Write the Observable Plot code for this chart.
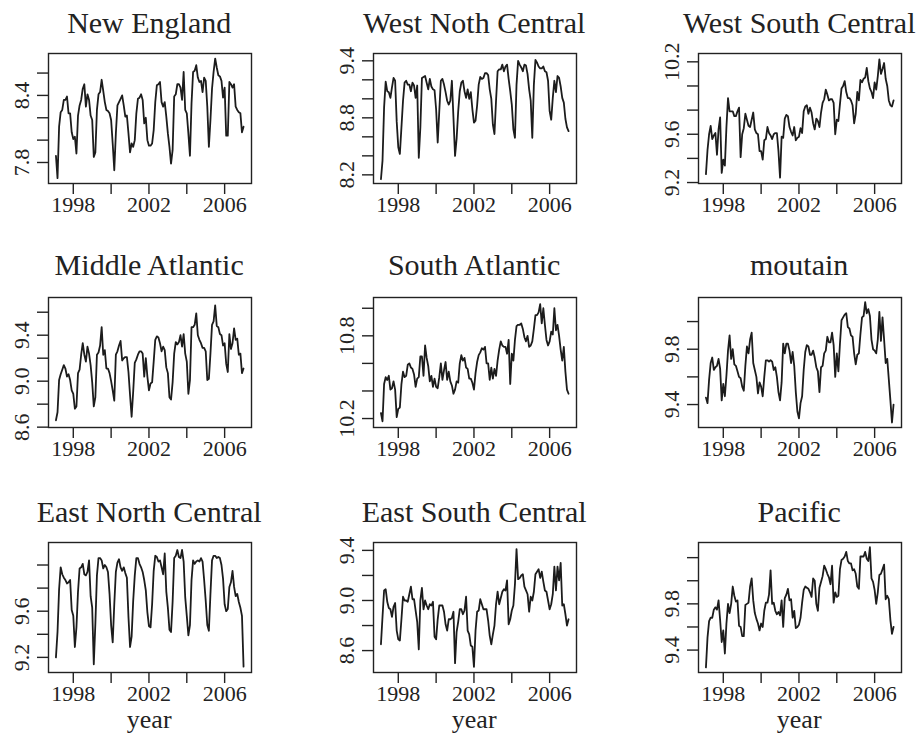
<!DOCTYPE html>
<html><head><meta charset="utf-8">
<script src="https://cdn.jsdelivr.net/npm/d3@7"></script>
<script src="https://cdn.jsdelivr.net/npm/@observablehq/plot@0.6"></script>
<style>
body{margin:0;background:#fff;}
#root{position:relative;width:919px;height:736px;overflow:hidden;font-family:"Liberation Serif",serif;color:#222;}
.title{position:absolute;font-size:30px;line-height:30px;white-space:nowrap;transform:translateX(-50%);}
.xlab{position:absolute;font-size:26px;line-height:26px;white-space:nowrap;transform:translateX(-50%);}
</style></head><body><div id="root"></div>
<script>
const regions = ["New England","West Noth Central","West South Central","Middle Atlantic","South Atlantic","moutain","East North Central","East South Central","Pacific"];
const firstMonth = 1997 + 1/12;

const newEngland = [7.86,7.66,8.12,8.25,8.27,8.36,8.36,8.39,8.24,8.24,8.07,8.01,
8.03,7.88,8.22,8.31,8.36,8.46,8.50,8.30,8.41,8.36,8.22,8.18,
7.85,7.89,8.27,8.41,8.43,8.54,8.44,8.34,8.27,8.26,8.24,8.18,
7.97,7.73,8.06,8.31,8.34,8.37,8.40,8.31,8.21,8.22,8.06,7.89,
7.97,7.94,8.00,8.24,8.37,8.38,8.41,8.36,8.15,8.20,8.00,7.95,
7.95,7.97,8.09,8.34,8.49,8.50,8.52,8.34,8.30,8.34,8.21,8.06,
7.94,7.79,7.91,8.39,8.41,8.50,8.50,8.47,8.36,8.61,8.27,8.24,
8.06,7.86,8.33,8.61,8.62,8.67,8.56,8.52,8.53,8.43,8.56,8.53,
8.30,7.94,8.18,8.46,8.61,8.73,8.65,8.58,8.57,8.53,8.38,8.47,
8.04,8.04,8.52,8.50,8.47,8.50,8.30,8.27,8.25,8.24,8.07,8.12];

const westNorthCentral = [8.154,8.35,8.91,9.18,9.08,9.07,9.01,9.12,9.22,9.19,8.76,8.49,
8.42,8.70,8.98,9.17,9.19,9.15,9.15,9.08,9.17,9.14,9.01,9.14,
8.38,8.70,9.22,9.23,9.24,9.17,9.10,9.21,9.13,9.10,9.09,8.89,
8.54,8.87,9.19,9.21,9.15,9.07,8.98,8.94,8.98,9.19,8.80,8.40,
8.58,8.87,9.08,9.17,9.19,9.08,9.01,9.10,9.00,9.07,8.89,8.75,
8.77,8.93,9.15,9.23,9.21,9.22,9.27,9.27,9.25,9.10,9.00,8.73,
8.63,8.98,9.29,9.31,9.31,9.36,9.29,9.34,9.36,9.21,9.08,8.94,
8.68,8.59,9.15,9.40,9.36,9.33,9.29,9.36,9.35,9.26,9.10,8.98,
8.59,9.15,9.41,9.38,9.34,9.32,9.32,9.34,9.29,9.28,9.19,8.87,
8.78,9.01,9.19,9.07,9.24,9.22,9.13,9.01,8.96,8.79,8.70,8.66];

const westSouthCentral = [9.27,9.47,9.60,9.67,9.56,9.59,9.61,9.43,9.64,9.74,9.28,9.39,
9.34,9.66,9.90,9.79,9.79,9.79,9.75,9.75,9.79,9.82,9.41,9.60,
9.65,9.77,9.72,9.67,9.66,9.72,9.78,9.64,9.61,9.60,9.46,9.46,
9.39,9.55,9.56,9.66,9.61,9.59,9.56,9.60,9.61,9.61,9.46,9.24,
9.58,9.57,9.73,9.76,9.75,9.66,9.62,9.59,9.66,9.55,9.57,9.58,
9.65,9.61,9.79,9.83,9.84,9.77,9.82,9.78,9.69,9.64,9.73,9.71,
9.66,9.78,9.86,9.89,9.97,9.93,9.88,9.89,9.89,9.86,9.60,9.72,
9.71,9.85,9.98,10.00,10.04,9.95,9.90,9.90,9.88,9.84,9.69,9.77,
9.95,9.88,10.05,10.03,10.06,10.07,10.15,10.04,9.98,9.95,9.90,10.03,
9.97,10.08,10.22,10.10,10.14,10.19,10.06,10.00,9.88,9.84,9.83,9.88];

const middleAtlantic = [8.66,8.73,9.01,9.06,9.10,9.14,9.11,9.04,9.06,9.01,8.92,8.89,
8.76,8.78,9.07,9.10,9.23,9.33,9.23,9.17,9.30,9.24,9.14,8.99,
8.78,8.86,9.23,9.25,9.31,9.47,9.23,9.27,9.11,9.11,9.07,9.00,
8.92,8.83,9.23,9.26,9.31,9.35,9.18,9.20,9.21,9.21,9.08,8.88,
8.69,8.91,9.16,9.19,9.23,9.26,9.26,9.24,9.04,9.20,9.04,8.92,
8.98,8.99,9.17,9.36,9.39,9.38,9.33,9.26,9.30,9.27,9.12,9.07,
8.86,8.84,8.99,9.24,9.34,9.32,9.34,9.40,9.30,9.41,9.24,9.17,
8.89,9.01,9.47,9.47,9.49,9.59,9.40,9.36,9.33,9.29,9.29,9.26,
9.01,9.02,9.24,9.49,9.52,9.66,9.48,9.47,9.41,9.40,9.31,9.33,
9.15,9.08,9.41,9.28,9.33,9.46,9.36,9.37,9.23,9.24,9.07,9.11];

const southAtlantic = [10.24,10.18,10.45,10.50,10.48,10.51,10.41,10.42,10.47,10.41,10.21,10.27,
10.28,10.45,10.54,10.50,10.51,10.59,10.60,10.57,10.56,10.52,10.43,10.49,
10.50,10.65,10.65,10.51,10.73,10.64,10.58,10.47,10.51,10.43,10.49,10.43,
10.42,10.50,10.60,10.48,10.55,10.61,10.48,10.54,10.47,10.44,10.38,10.41,
10.47,10.46,10.60,10.66,10.62,10.64,10.57,10.56,10.49,10.49,10.46,10.41,
10.53,10.61,10.66,10.68,10.71,10.70,10.72,10.60,10.60,10.48,10.57,10.49,
10.56,10.51,10.62,10.70,10.76,10.73,10.72,10.72,10.67,10.77,10.45,10.67,
10.62,10.77,10.87,10.88,10.88,10.89,10.85,10.79,10.76,10.80,10.72,10.73,
10.76,10.85,10.95,10.95,10.97,11.03,10.89,11.00,10.88,10.77,10.73,10.76,
10.83,10.81,11.00,10.84,10.88,10.80,10.70,10.62,10.72,10.54,10.41,10.38];

const mountain = [9.45,9.41,9.58,9.70,9.74,9.65,9.67,9.68,9.73,9.66,9.43,9.55,
9.46,9.61,9.79,9.90,9.73,9.80,9.69,9.68,9.64,9.60,9.59,9.53,
9.50,9.68,9.82,9.77,9.87,9.92,9.70,9.65,9.60,9.48,9.56,9.53,
9.46,9.60,9.72,9.72,9.71,9.72,9.71,9.65,9.67,9.60,9.49,9.43,
9.56,9.84,9.77,9.84,9.84,9.79,9.70,9.78,9.68,9.49,9.35,9.30,
9.41,9.46,9.65,9.78,9.83,9.82,9.76,9.76,9.79,9.74,9.67,9.64,
9.49,9.67,9.68,9.77,9.79,9.89,9.85,9.85,9.92,9.83,9.60,9.77,
9.64,9.84,10.01,10.03,10.05,10.06,9.96,9.95,9.90,9.89,9.77,9.69,
9.76,9.77,9.91,10.03,10.04,10.14,10.06,10.09,10.04,9.87,9.80,9.79,
9.77,9.87,10.07,9.86,10.03,9.87,9.70,9.73,9.58,9.43,9.27,9.40];

const eastNorthCentral = [9.20,9.42,9.79,9.98,9.92,9.89,9.87,9.84,9.85,9.87,9.61,9.56,
9.29,9.46,9.77,9.97,9.98,10.01,9.92,9.91,9.94,10.04,9.73,9.63,
9.14,9.49,9.91,10.06,10.06,10.04,9.97,10.00,9.98,9.94,9.75,9.48,
9.33,9.66,9.94,10.02,10.05,9.98,9.95,9.98,9.93,9.89,9.55,9.29,
9.38,9.69,9.91,10.06,10.06,10.01,9.98,9.94,9.87,9.78,9.59,9.47,
9.46,9.66,9.95,10.08,10.07,10.03,10.04,9.98,9.92,10.10,9.77,9.63,
9.44,9.42,9.68,10.06,10.08,10.13,10.07,10.06,10.13,10.03,9.72,9.56,
9.39,9.48,9.87,10.04,10.01,10.03,10.04,10.03,10.06,10.03,9.87,9.69,
9.48,9.43,9.75,10.04,10.08,10.08,10.06,10.07,10.06,10.00,9.88,9.66,
9.60,9.62,9.81,9.85,9.95,9.81,9.73,9.75,9.68,9.63,9.56,9.12];

const eastSouthCentral = [8.65,8.87,9.08,9.09,8.99,8.94,8.93,8.87,8.95,8.98,8.76,8.69,
8.68,8.85,9.03,9.00,9.00,8.99,9.05,9.11,9.01,9.01,8.92,8.83,
8.61,9.00,9.10,8.93,9.00,8.96,8.93,8.97,8.96,8.99,8.71,8.69,
8.85,8.96,8.96,8.96,8.91,8.81,8.76,8.85,8.85,8.86,8.91,8.50,
8.75,8.83,8.93,8.93,8.89,8.92,9.03,8.76,8.73,8.64,8.63,8.47,
8.76,8.91,8.92,9.01,8.97,8.93,8.93,8.93,8.84,8.72,8.65,8.73,
8.80,8.97,9.07,8.97,9.02,9.07,9.09,9.08,9.16,8.81,8.85,8.92,
8.96,9.13,9.41,9.17,9.18,9.20,9.21,9.11,9.08,9.05,8.91,9.03,
9.00,9.07,9.21,9.23,9.25,9.18,9.23,9.15,9.08,9.07,9.00,8.93,
8.97,9.05,9.27,9.08,9.27,9.16,9.30,8.96,8.97,8.89,8.80,8.85];

const pacific = [9.25,9.51,9.65,9.68,9.68,9.75,9.77,9.75,9.83,9.66,9.47,9.57,
9.37,9.63,9.80,9.72,9.80,9.95,9.87,9.82,9.83,9.61,9.60,9.52,
9.52,9.79,9.80,9.81,9.95,10.02,9.83,9.72,9.67,9.63,9.57,9.63,
9.60,9.74,9.81,9.81,9.88,10.09,9.80,9.81,9.74,9.71,9.73,9.70,
9.83,9.60,9.85,9.88,9.93,9.83,9.84,9.68,9.74,9.59,9.60,9.62,
9.68,9.81,9.92,9.95,9.94,9.93,9.90,9.86,10.02,10.00,9.80,9.74,
9.94,9.99,10.04,10.13,10.10,10.06,10.03,9.97,10.13,9.81,9.90,9.86,
9.87,10.10,10.18,10.19,10.21,10.25,10.17,10.15,10.15,10.09,10.10,10.06,
9.95,9.93,10.21,10.21,10.21,10.25,10.19,10.17,10.29,10.02,9.99,9.92,
9.80,9.90,10.05,10.06,10.10,10.14,9.84,9.87,9.84,9.66,9.54,9.60];

const series = [newEngland, westNorthCentral, westSouthCentral, middleAtlantic, southAtlantic, mountain, eastNorthCentral, eastSouthCentral, pacific];

const yDomains = [[7.612,8.775],[8.109,9.477],[9.192,10.269],[8.597,9.728],[10.135,11.078],[9.234,10.174],[9.069,10.195],[8.425,9.463],[9.206,10.331]];
const yTicks = [[7.8,8.0,8.2,8.4,8.6],[8.2,8.4,8.6,8.8,9.0,9.2,9.4],[9.2,9.4,9.6,9.8,10.0,10.2],[8.6,8.8,9.0,9.2,9.4,9.6],[10.2,10.4,10.6,10.8,11.0],[9.4,9.6,9.8,10.0],[9.2,9.4,9.6,9.8,10.0],[8.6,8.8,9.0,9.2,9.4],[9.4,9.6,9.8,10.0,10.2]];
const yLabels = [[7.8,8.4],[8.2,8.8,9.4],[9.2,9.6,10.2],[8.6,9.0,9.4],[10.2,10.8],[9.4,9.8],[9.2,9.6],[8.6,9.0,9.4],[9.4,9.8]];
const xTicks = [1998,2000,2002,2004,2006];
const xLabels = [1998,2002,2006];
const xDomain = [1996.69, 2007.42];
const xAxisTitle = "year";

const colLeft = [47.7, 372.7, 697.7];
const rowTop = [52.7, 297.3, 542.3];
const titleTop = [8.2, 249.9, 497.2];
const boxW = 203, boxH = 130;
const ML = 50, MR = 8, MT = 6, MB = 44;

const root = document.getElementById("root");

series.forEach((vals, k) => {
  const col = k % 3, row = Math.floor(k / 3);
  const data = vals.map((v, i) => ({t: firstMonth + i / 12, v}));
  const labs = yLabels[k];
  const svg = Plot.plot({
    width: boxW + ML + MR,
    height: boxH + MT + MB,
    marginLeft: ML, marginRight: MR, marginTop: MT, marginBottom: MB,
    x: {domain: xDomain},
    y: {domain: yDomains[k]},
    style: {fontFamily: "Liberation Serif, serif", fontSize: "22px", color: "#222", background: "transparent", overflow: "visible"},
    marks: [
      Plot.line(data, {x: "t", y: "v", stroke: "#1c1c1c", strokeWidth: 1.8}),
      Plot.frame({stroke: "#222", strokeWidth: 1.4}),
      Plot.axisX({ticks: xTicks, tickSize: 11, tickPadding: 2, strokeWidth: 1.4, fontSize: 22, label: null,
        tickFormat: d => xLabels.includes(d) ? String(d) : ""}),
      Plot.axisY({ticks: yTicks[k], tickSize: 11, tickPadding: 9, tickRotate: -90, strokeWidth: 1.4, fontSize: 22, label: null,
        tickFormat: d => labs.some(l => Math.abs(l - d) < 1e-9) ? d.toFixed(1) : ""})
    ]
  });
  svg.style.position = "absolute";
  svg.style.left = (colLeft[col] - ML) + "px";
  svg.style.top = (rowTop[row] - MT) + "px";
  root.appendChild(svg);

  const t = document.createElement("div");
  t.className = "title";
  t.textContent = regions[k];
  t.style.left = (colLeft[col] + boxW / 2) + "px";
  t.style.top = titleTop[row] + "px";
  root.appendChild(t);

  if (row === 2) {
    const y = document.createElement("div");
    y.className = "xlab";
    y.textContent = xAxisTitle;
    y.style.left = (colLeft[col] + boxW / 2) + "px";
    y.style.top = "707.4px";
    root.appendChild(y);
  }
});
</script>
</body></html>
